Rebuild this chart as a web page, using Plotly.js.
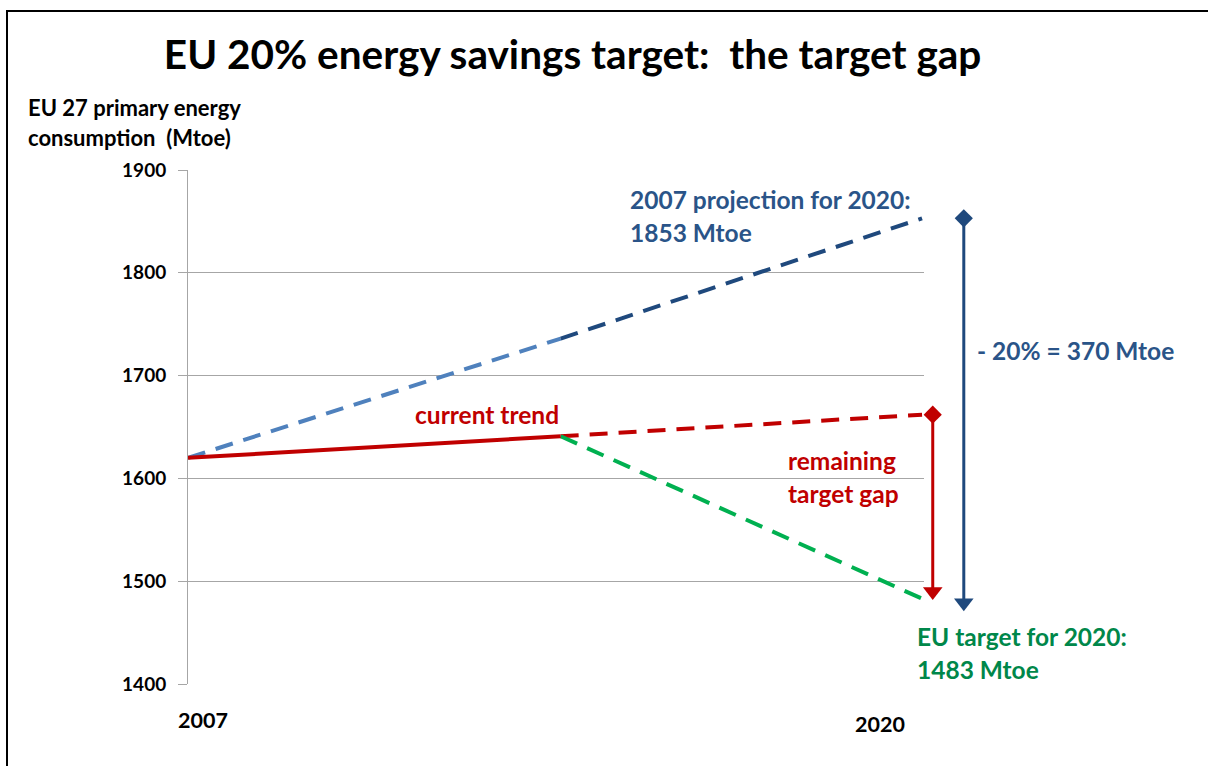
<!DOCTYPE html>
<html>
<head>
<meta charset="utf-8">
<script src="https://cdn.plot.ly/plotly-3.0.1.min.js"></script>
<style>
  body { margin: 0; background: #fff; }
  #wrap { position: relative; width: 1208px; height: 766px; overflow: hidden; }
  #chart { width: 1208px; height: 766px; }
  #frame { position: absolute; left: 6px; top: 10px; width: 1300px; height: 900px;
           border-left: 2px solid #000; border-top: 2px solid #000; pointer-events: none; }
</style>
</head>
<body>
<div id="wrap">
  <div id="chart"></div>
  <div id="frame"></div>
</div>
<script>
// years on the x axis (the middle one is where the actual trend stops)
var years = [2007, 2013.6, 2020];
var yearLabels = ["2007", "2020"];

// Mtoe values
var projection = [1620, 1736, 1853];   // 2007 projection
var trend = [1620, 1641, 1662];        // current trend (solid, then dashed)
var target = [1641, 1483];             // path to the EU target
var gapArrow = [1662, 1490];           // remaining target gap
var cutArrow = [1853, 1479];           // -20 %

var yTicks = [1400, 1500, 1600, 1700, 1800, 1900];

var FONT = "Lato, 'Open Sans', sans-serif";
var darkBlue = "#1F497D", lightBlue = "#4F81BD", red = "#C00000", green = "#00B050";
var blueText = "#2A5488", greenText = "#00874A";
var dash = "18px,11px";

var traces = [
  {x: years.slice(0, 2), y: projection.slice(0, 2), mode: "lines",
   line: {color: lightBlue, width: 4, dash: dash}},
  {x: years.slice(1), y: projection.slice(1), mode: "lines",
   line: {color: darkBlue, width: 4, dash: dash}},
  {x: years.slice(1), y: trend.slice(1), mode: "lines",
   line: {color: red, width: 4, dash: dash}},
  {x: years.slice(1), y: target, mode: "lines",
   line: {color: green, width: 4, dash: dash}},
  {x: years.slice(0, 2), y: trend.slice(0, 2), mode: "lines",
   line: {color: red, width: 4}},
  // vertical arrows sit right of the plot, on a wider hidden pair of axes
  {x: [2020.19, 2020.19], y: gapArrow, xaxis: "x2", yaxis: "y2", mode: "lines+markers",
   line: {color: red, width: 3},
   marker: {color: red, opacity: 1, line: {width: 0},
            symbol: ["diamond", "triangle-down"], size: [14, 17]}},
  {x: [2020.74, 2020.74], y: cutArrow, xaxis: "x2", yaxis: "y2", mode: "lines+markers",
   line: {color: darkBlue, width: 3},
   marker: {color: darkBlue, opacity: 1, line: {width: 0},
            symbol: ["diamond", "triangle-down"], size: [14, 17]}}
];

var ann = [];
function txt(x, y, text, color, size, anchor, ref) {
  var a = {x: x, y: y, text: text, showarrow: false, xanchor: anchor || "left",
           yanchor: "middle", font: {family: FONT, size: size, color: color}};
  if (ref === "paper") { a.xref = "paper"; a.yref = "paper"; }
  else if (ref === "x2") { a.xref = "x2"; a.yref = "y2"; }
  else { a.xref = "x"; a.yref = "y"; }
  ann.push(a);
}
txt(2014.79, 1871, "<b>2007 projection for 2020:</b>", blueText, 24.5);
txt(2014.79, 1839, "<b>1853 Mtoe</b>", blueText, 24.5);
txt(2020.94, 1724, "<b>- 20% = 370 Mtoe</b>", blueText, 24.5, "left", "x2");
txt(2012.3, 1662, "<b>current trend</b>", red, 24.5, "center");
txt(2017.59, 1617, "<b>remaining</b>", red, 24.5);
txt(2017.59, 1585, "<b>target gap</b>", red, 24.5);
txt(2019.88, 1446, "<b>EU target for 2020:</b>", greenText, 24.5, "left", "x2");
txt(2019.88, 1414, "<b>1483 Mtoe</b>", greenText, 24.5, "left", "x2");
// axis title, two lines
txt(-0.198, 1.121, "<b>EU 27 primary energy</b>", "#000", 22, "left", "paper");
txt(-0.198, 1.063, "<b>consumption  (Mtoe)</b>", "#000", 22, "left", "paper");
// year labels below the axis
txt(0.018, -0.07, "<b>" + yearLabels[0] + "</b>", "#000", 21.5, "center", "paper");
txt(0.844, -0.078, "<b>" + yearLabels[1] + "</b>", "#000", 21.5, "center", "paper");

var layout = {
  width: 1208, height: 766,
  margin: {l: 188, r: 200, t: 170, b: 82},
  paper_bgcolor: "#fff", plot_bgcolor: "rgba(0,0,0,0)",
  showlegend: false,
  title: {text: "<b>EU 20% energy savings target:  the target gap</b>",
          font: {family: FONT, size: 40.5, color: "#000"},
          x: 0.474, xanchor: "center", y: 0.928, yanchor: "middle"},
  xaxis: {domain: [0, 0.8976], range: [2007, 2020.035], showgrid: false,
          showticklabels: false, zeroline: false, showline: false, ticks: ""},
  yaxis: {range: [1400, 1900], tickvals: yTicks, showgrid: true, gridcolor: "#A6A6A6",
          gridwidth: 1, zeroline: false, showline: true, linecolor: "#A6A6A6",
          ticks: "outside", ticklen: 9, tickcolor: "#A6A6A6", ticklabelstandoff: 8,
          tickfont: {family: FONT, size: 19, color: "#000", weight: "bold"}},
  xaxis2: {domain: [0, 1], range: [2007, 2021.523], anchor: "y2", visible: false},
  yaxis2: {domain: [0, 1], range: [1400, 1900], anchor: "x2", visible: false},
  annotations: ann
};

Plotly.newPlot("chart", traces, layout, {staticPlot: true});
</script>
</body>
</html>
